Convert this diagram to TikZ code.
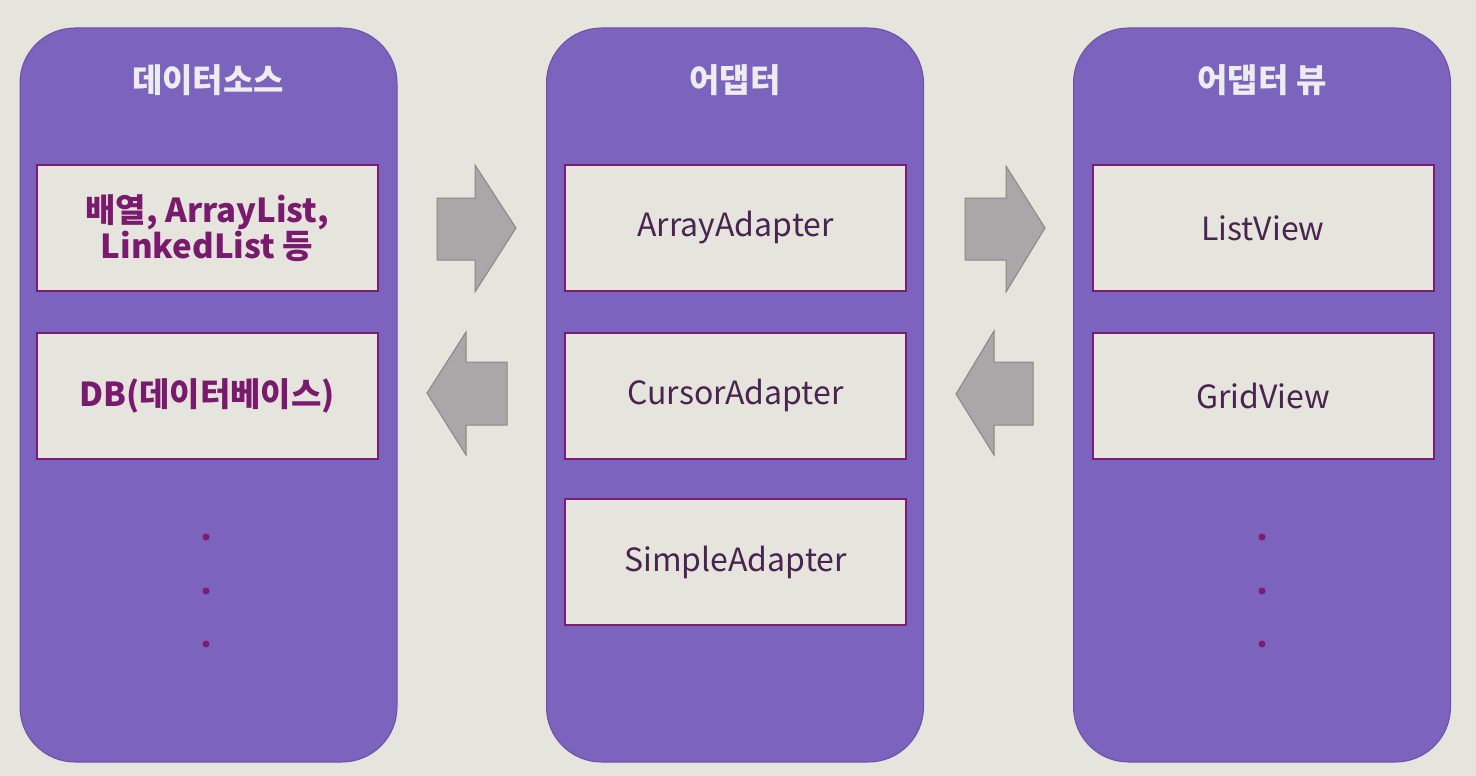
\documentclass[tikz,border=0pt]{standalone}
\usepackage{fontspec}
\setmainfont{Noto Sans CJK KR}
\definecolor{bg}{HTML}{E6E5DD}
\definecolor{panelc}{HTML}{7B63BE}
\definecolor{paneld}{HTML}{6A50A8}
\definecolor{boxline}{HTML}{7B1E70}
\definecolor{boldtxt}{HTML}{7A1A6E}
\definecolor{plaintxt}{HTML}{4A2450}
\definecolor{arrfill}{HTML}{A9A7A7}
\definecolor{arrline}{HTML}{888686}
\begin{document}
\begin{tikzpicture}[x=1pt,y=-1pt,
  panel/.style={draw=paneld, line width=1pt, fill=panelc, rounded corners=55pt, minimum width=377pt, minimum height=734pt},
  title/.style={text=white!93!black, font=\fontsize{33}{36}\selectfont\bfseries},
  item/.style={draw=boxline, line width=2pt, fill=bg, minimum width=341pt, minimum height=126pt, align=center, text=plaintxt, font=\fontsize{32}{36}\selectfont},
  bolditem/.style={item, text=boldtxt, font=\fontsize{33}{34}\selectfont\bfseries},
  dot/.style={circle, fill=boxline, inner sep=0pt, minimum size=7pt},
  blockarrow/.style={fill=arrfill, draw=arrline, line width=1pt, line join=miter}
]
\useasboundingbox (0,0) rectangle (1476,776);
\fill[bg] (0,0) rectangle (1476,776);

% panels
\node[panel] (p1) at (208.5,395) {};
\node[panel] (p2) at (735,395) {};
\node[panel] (p3) at (1262,395) {};

% titles
\node[title] (t1) at (208,80) {데이터소스};
\node[title] (t2) at (735,80) {어댑터};
\node[title] (t3) at (1262,80) {어댑터 뷰};

% items
\node[bolditem] (a1) at (207,228) {배열, ArrayList,\\LinkedList 등};
\node[bolditem] (a2) at (207,395.5) {DB(데이터베이스)};
\node[item] (b1) at (735.5,228) {ArrayAdapter};
\node[item] (b2) at (735.5,395.5) {CursorAdapter};
\node[item] (b3) at (735.5,562) {SimpleAdapter};
\node[item] (c1) at (1263,228) {ListView};
\node[item] (c2) at (1263,395.5) {GridView};

% dots
\foreach \y [count=\i] in {537,591,644} {
  \node[dot] (da\i) at (206,\y) {};
  \node[dot] (dc\i) at (1262,\y) {};
}

% block arrows
\draw[blockarrow] (437,198) -- (475,198) -- (475,165) -- (516,228) -- (475,292) -- (475,260) -- (437,260) -- cycle;
\draw[blockarrow] (507,362) -- (466,362) -- (466,332) -- (427,393) -- (466,455) -- (466,425) -- (507,425) -- cycle;
\draw[blockarrow] (965,198) -- (1006,198) -- (1006,166) -- (1045,228) -- (1006,292) -- (1006,260) -- (965,260) -- cycle;
\draw[blockarrow] (1033,362) -- (994,362) -- (994,331) -- (956,394) -- (994,455) -- (994,425) -- (1033,425) -- cycle;
\end{tikzpicture}
\end{document}
